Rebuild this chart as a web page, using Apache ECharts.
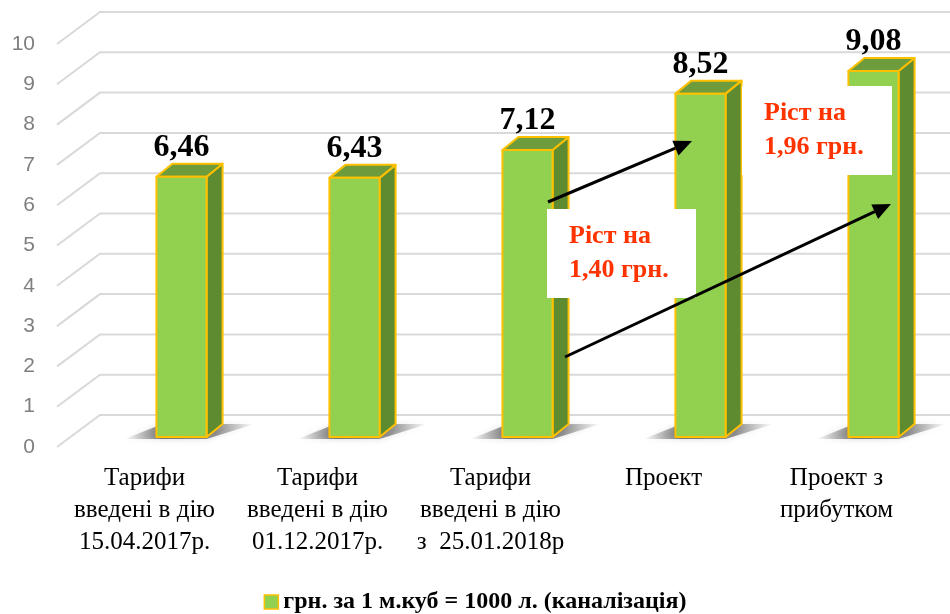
<!DOCTYPE html>
<html>
<head>
<meta charset="utf-8">
<script src="https://cdn.jsdelivr.net/npm/echarts@6/dist/echarts.min.js"></script>
<style>
  html, body { margin: 0; padding: 0; background: #fff; }
  #chart { width: 950px; height: 614px; }
</style>
</head>
<body>
<div id="chart"></div>
<script>
// дані
const categories = [
  'Тарифи\nвведені в дію\n15.04.2017р.',
  'Тарифи\nвведені в дію\n01.12.2017р.',
  'Тарифи\nвведені в дію\nз  25.01.2018р',
  'Проект',
  'Проект з\nприбутком'
]
const values = [6.46, 6.43, 7.12, 8.52, 9.08]
const yTicks = [0, 1, 2, 3, 4, 5, 6, 7, 8, 9, 10]
const seriesName = 'грн. за 1 м.куб = 1000 л. (каналізація)'

// 3d площини відносно передньої
const BAR_DX = 37, BAR_DY = -10
const BACK_DX = 43, BACK_DY = -32
const DEPTH_X = 16, DEPTH_Y = -13

const chart = echarts.init(document.getElementById('chart'), null, { renderer: 'canvas' })

function fmt(v) {
  return v.toFixed(2).replace('.', ',')
}

// сітка
function renderGrid(params, api) {
  const p = api.coord([0, api.value(1)])
  const cs = params.coordSys
  const x = cs.x - 1
  const y = p[1]
  return {
    type: 'polyline',
    shape: { points: [[x, y], [x + BACK_DX, y + BACK_DY], [950, y + BACK_DY]] },
    style: { stroke: '#d9d9d9', lineWidth: 2, fill: null },
    silent: true
  }
}

// стовпчики
function renderBar(params, api) {
  const i = api.value(0)
  const v = api.value(1)
  const base = api.coord([i, 0])
  const top = api.coord([i, v])
  const w = api.size([1, 0])[0] * 0.29
  const x0 = base[0] + BAR_DX - w / 2
  const x1 = x0 + w
  const by = base[1] + BAR_DY
  const ty = top[1] + BAR_DY
  const border = { stroke: '#FFC000', lineWidth: 2, lineJoin: 'round' }
  return {
    type: 'group',
    children: [
      {
        type: 'polygon',
        shape: { points: [[x0 - 32, by + 2], [x1, by + 2], [x1 + DEPTH_X + 32, by + DEPTH_Y], [x0 + DEPTH_X - 10, by + DEPTH_Y]] },
        style: {
          fill: new echarts.graphic.LinearGradient(0, 0, 1, 0, [
            { offset: 0, color: 'rgba(0,0,0,0)' },
            { offset: 0.3, color: 'rgba(0,0,0,0.5)' },
            { offset: 0.7, color: 'rgba(0,0,0,0.4)' },
            { offset: 1, color: 'rgba(0,0,0,0)' }
          ]),
          shadowBlur: 6,
          shadowColor: 'rgba(0,0,0,0.3)'
        }
      },
      {
        type: 'polygon',
        shape: { points: [[x1, ty], [x1 + DEPTH_X, ty + DEPTH_Y], [x1 + DEPTH_X, by + DEPTH_Y], [x1, by]] },
        style: Object.assign({ fill: '#5E8A30' }, border)
      },
      {
        type: 'polygon',
        shape: { points: [[x0, ty], [x0 + DEPTH_X, ty + DEPTH_Y], [x1 + DEPTH_X, ty + DEPTH_Y], [x1, ty]] },
        style: Object.assign({ fill: '#6E9C3C' }, border)
      },
      {
        type: 'rect',
        shape: { x: x0, y: ty, width: w, height: by - ty },
        style: Object.assign({ fill: '#92D050' }, border)
      },
      {
        type: 'text',
        style: {
          x: (x0 + x1) / 2,
          y: ty - 29,
          text: fmt(v),
          align: 'center',
          verticalAlign: 'middle',
          font: 'bold 32px "Liberation Serif", "Times New Roman", serif',
          fill: '#000'
        }
      }
    ]
  }
}

function arrow(x1, y1, x2, y2) {
  const ang = Math.atan2(y2 - y1, x2 - x1)
  const len = 18, half = 8
  const bx = x2 - len * Math.cos(ang), by = y2 - len * Math.sin(ang)
  const nx = -Math.sin(ang), ny = Math.cos(ang)
  return [
    {
      type: 'line', z: 110,
      shape: { x1: x1, y1: y1, x2: bx, y2: by },
      style: { stroke: '#000', lineWidth: 3 }
    },
    {
      type: 'polygon', z: 110,
      shape: { points: [[x2, y2], [bx + nx * half, by + ny * half], [bx - nx * half, by - ny * half]] },
      style: { fill: '#000' }
    }
  ]
}

function noteBox(x, y, w, h, text) {
  return [
    { type: 'rect', z: 100, shape: { x: x, y: y, width: w, height: h }, style: { fill: '#fff' } },
    {
      type: 'text', z: 101,
      style: {
        x: x + 22, y: y + h / 2, text: text,
        align: 'left', verticalAlign: 'middle',
        font: 'bold 26px "Liberation Serif", "Times New Roman", serif',
        lineHeight: 34,
        fill: '#FF3300'
      }
    }
  ]
}

const option = {
  backgroundColor: '#fff',
  animation: false,
  grid: { left: 58, right: 27, top: 44, bottom: 167 },
  legend: {
    data: [seriesName],
    left: 'center',
    top: 585,
    icon: 'rect',
    itemWidth: 14,
    itemHeight: 14,
    itemGap: 6,
    itemStyle: { color: '#92D050', borderColor: '#FFC000', borderWidth: 1.5 },
    textStyle: { fontFamily: '"Liberation Serif", "Times New Roman", serif', fontWeight: 'bold', fontSize: 24, color: '#000' }
  },
  xAxis: {
    type: 'category',
    data: categories,
    axisLine: { show: false },
    axisTick: { show: false },
    axisLabel: {
      margin: 15,
      interval: 0,
      fontFamily: '"Liberation Serif", "Times New Roman", serif',
      fontSize: 25,
      lineHeight: 32,
      color: '#000'
    }
  },
  yAxis: {
    type: 'value',
    min: 0,
    max: 10,
    interval: 1,
    axisLine: { show: false },
    axisTick: { show: false },
    splitLine: { show: false },
    axisLabel: {
      margin: 23,
      fontFamily: '"Liberation Sans", Arial, sans-serif',
      fontSize: 21,
      color: '#7f7f7f'
    }
  },
  series: [
    {
      name: 'grid',
      type: 'custom',
      renderItem: renderGrid,
      data: yTicks.map(v => [0, v]),
      z: 1,
      silent: true
    },
    {
      name: seriesName,
      type: 'custom',
      renderItem: renderBar,
      itemStyle: { color: '#92D050' },
      data: values.map((v, i) => [i, v]),
      z: 5
    }
  ],
  graphic: [].concat(
    noteBox(547, 209, 149, 89, 'Ріст на\n1,40 грн.'),
    noteBox(742, 86, 150, 89, 'Ріст на\n1,96 грн.'),
    arrow(548, 202, 692, 141),
    arrow(565, 357, 891, 204)
  )
}

chart.setOption(option)
</script>
</body>
</html>
